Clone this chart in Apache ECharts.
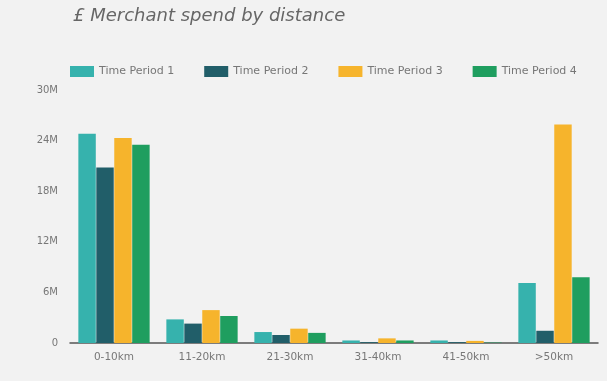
<!DOCTYPE html>
<html>
<head>
<meta charset="utf-8">
<script src="https://cdn.jsdelivr.net/npm/echarts@6/dist/echarts.min.js"></script>
<style>
  html, body { margin: 0; padding: 0; background: #f2f2f2; }
  #chart { width: 607px; height: 381px; }
</style>
</head>
<body>
<div id="chart"></div>
<script>
// Merchant spend (in £ millions) per distance band
const categories = ['0-10km', '11-20km', '21-30km', '31-40km', '41-50km', '>50km'];
const seriesNames = ['Time Period 1', 'Time Period 2', 'Time Period 3', 'Time Period 4'];
const period1 = [24.8, 2.8, 1.3, 0.3, 0.3, 7.1];
const period2 = [20.8, 2.3, 0.95, 0.1, 0.1, 1.45];
const period3 = [24.3, 3.9, 1.7, 0.55, 0.25, 25.9];
const period4 = [23.5, 3.2, 1.2, 0.3, 0.05, 7.8];
const yTicks = [0, 6, 12, 18, 24, 30];
const colors = ['#36b2ad', '#215e69', '#f6b42c', '#1f9e5f'];

const values = [period1, period2, period3, period4];
const FONT = 'DejaVu Sans';

const chart = echarts.init(document.getElementById('chart'));
chart.setOption({
  backgroundColor: '#f2f2f2',
  color: colors,
  title: {
    text: '£ Merchant spend by distance',
    left: 68,
    top: 2,
    textStyle: { fontFamily: FONT, fontStyle: 'italic', fontWeight: 'normal', fontSize: 18, color: '#666' }
  },
  legend: {
    data: seriesNames,
    left: 65,
    top: 61,
    itemWidth: 24,
    itemHeight: 11,
    itemGap: 30,
    icon: 'rect',
    textStyle: { fontFamily: FONT, fontSize: 11, color: '#777' }
  },
  grid: { left: 70, right: 9, top: 90, bottom: 38, containLabel: false },
  xAxis: {
    type: 'category',
    data: categories,
    axisTick: { show: false },
    axisLine: { lineStyle: { color: '#555', width: 1.5 } },
    axisLabel: { fontFamily: FONT, fontSize: 10.5, color: '#777', margin: 9 }
  },
  yAxis: {
    type: 'value',
    min: yTicks[0],
    max: yTicks[yTicks.length - 1],
    interval: yTicks[1] - yTicks[0],
    splitLine: { show: false },
    axisLine: { show: false },
    axisTick: { show: false },
    axisLabel: {
      fontFamily: FONT, fontSize: 10, color: '#777', margin: 12,
      formatter: v => (v === 0 ? '0' : v + 'M')
    }
  },
  series: seriesNames.map((name, i) => ({
    name,
    type: 'bar',
    data: values[i],
    barGap: '3%',
    barCategoryGap: '19%'
  }))
});
</script>
</body>
</html>
